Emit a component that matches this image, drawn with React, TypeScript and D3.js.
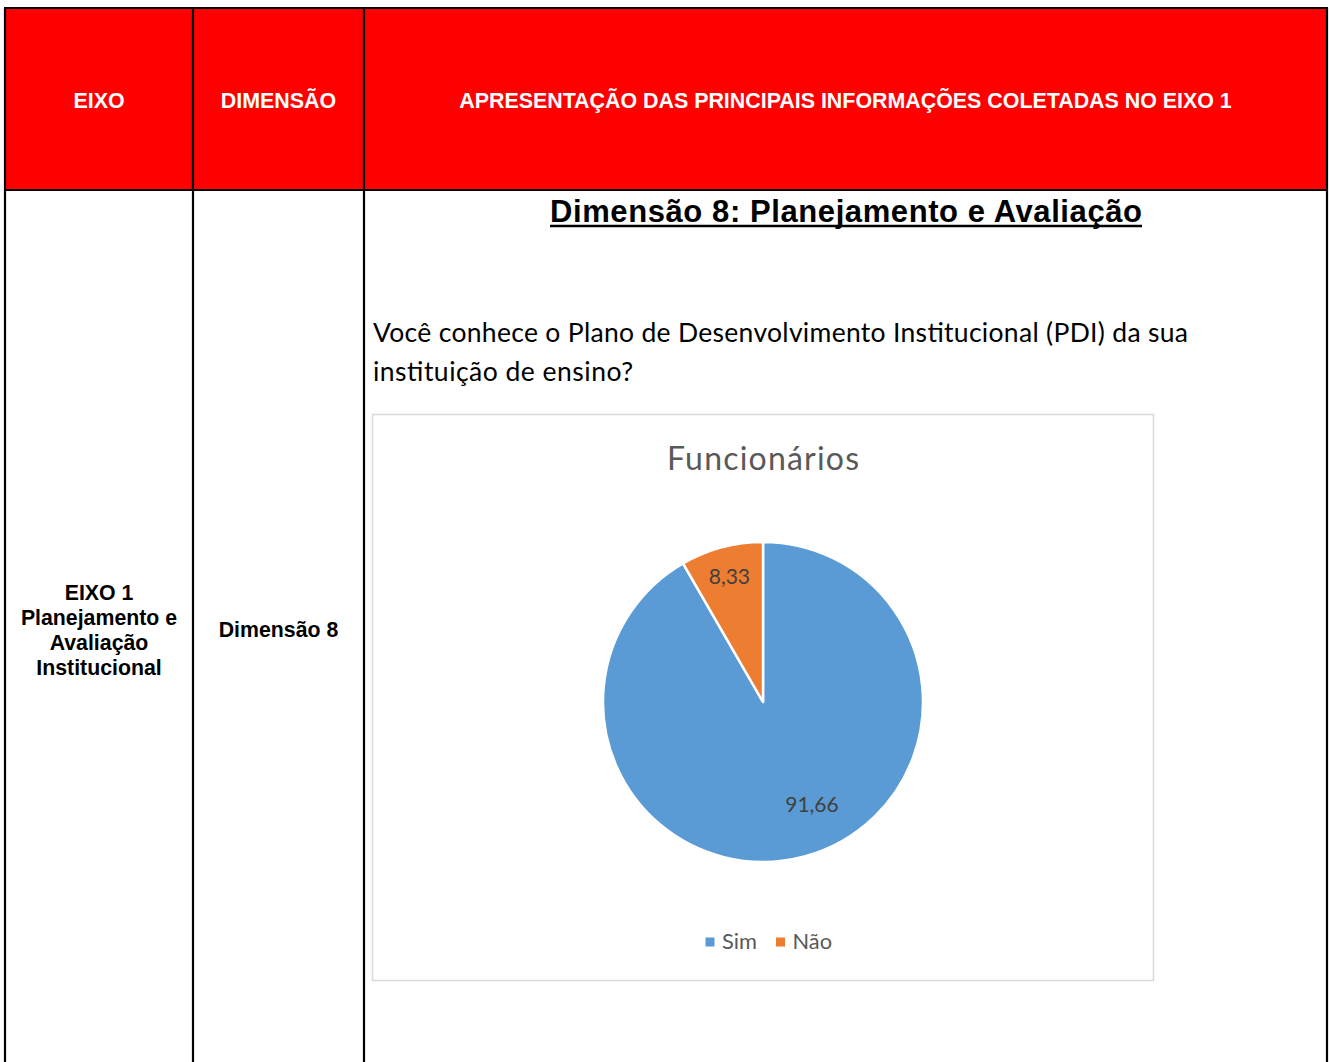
import React from "react";
import * as d3 from "d3";

const headers = ["EIXO", "DIMENSÃO", "APRESENTAÇÃO DAS PRINCIPAIS INFORMAÇÕES COLETADAS NO EIXO 1"];
const eixoLines = ["EIXO 1", "Planejamento e", "Avaliação", "Institucional"];
const dimensao = "Dimensão 8";
const sectionTitle = "Dimensão 8: Planejamento e Avaliação";
const questionLines = ["Você conhece o Plano de Desenvolvimento Institucional (PDI) da sua", "instituição de ensino?"];
const chartTitle = "Funcionários";
const categories = ["Sim", "Não"];
const values = [91.66, 8.33];
const valueLabels = ["91,66", "8,33"];
const colors = ["#5B9BD5", "#ED7D31"];

const W = 1330;
const H = 1062;
const colX = [5, 193, 364, 1327];
const tableTop = 8;
const headerBottom = 190;

const cx = 763;
const cy = 702;
const R = 160;

export default function App() {
  const pie = d3.pie<number>().sort(null).value((d) => d);
  const arcs = pie(values);
  const arcGen = d3.arc<d3.PieArcDatum<number>>().innerRadius(0).outerRadius(R);
  const labelArc = d3.arc<d3.PieArcDatum<number>>().innerRadius(0);
  const labelRadii = [112 * 2, 130 * 2];
  const labelShift = [[20, -6], [0, 0]];
  const arial = "'Liberation Sans', Arial, sans-serif";
  const cal = "Lato, 'Open Sans', sans-serif";

  return (
    <svg
      width={W}
      height={H}
      style={{ position: "absolute", left: 0, top: 0, background: "#fff" }}
    >
      <rect x={colX[0]} y={tableTop} width={colX[3] - colX[0]} height={headerBottom - tableTop} fill="#FF0000" />
      {/* table lines */}
      <g stroke="#000" strokeWidth={2.2}>
        <line x1={colX[0] - 1} x2={colX[3] + 1} y1={tableTop} y2={tableTop} />
        <line x1={colX[0] - 1} x2={colX[3] + 1} y1={headerBottom} y2={headerBottom} />
        {colX.map((x, i) => (
          <line key={i} x1={x} x2={x} y1={tableTop} y2={H} />
        ))}
      </g>
      {/* header text */}
      {headers.map((h, i) => (
        <text
          key={h}
          x={(colX[i] + colX[i + 1]) / 2}
          y={107.5}
          textAnchor="middle"
          fill="#fff"
          fontFamily={arial}
          fontWeight="bold"
          fontSize={21.4}
        >
          {h}
        </text>
      ))}
      {/* left column */}
      {eixoLines.map((t, i) => (
        <text
          key={t}
          x={(colX[0] + colX[1]) / 2}
          y={599.5 + i * 25}
          textAnchor="middle"
          fill="#000"
          fontFamily={arial}
          fontWeight="bold"
          fontSize={21.3}
        >
          {t}
        </text>
      ))}
      <text
        x={(colX[1] + colX[2]) / 2}
        y={636.5}
        textAnchor="middle"
        fill="#000"
        fontFamily={arial}
        fontWeight="bold"
        fontSize={21.3}
      >
        {dimensao}
      </text>
      {/* section title */}
      <text
        x={550}
        y={221.5}
        fill="#000"
        fontFamily={arial}
        fontWeight="bold"
        fontSize={31}
        textLength={592}
      >
        {sectionTitle}
      </text>
      <line x1={550} x2={1142} y1={226} y2={226} stroke="#000" strokeWidth={2.4} />
      {/* question */}
      {questionLines.map((t, i) => (
        <text
          key={t}
          x={373}
          y={342 + i * 39}
          fill="#000"
          fontFamily={cal}
          fontSize={26.5}
          textLength={i === 0 ? 815 : 260}
        >
          {t}
        </text>
      ))}
      {/* chart frame */}
      <rect x={372.5} y={414.5} width={781} height={566} fill="#fff" stroke="#D9D9D9" strokeWidth={1.5} />
      <text
        x={cx}
        y={470}
        textAnchor="middle"
        fill="#595959"
        fontFamily={cal}
        fontSize={32}
        textLength={192}
      >
        {chartTitle}
      </text>
      <g transform={`translate(${cx},${cy})`}>
        {arcs.map((a, i) => (
          <path key={i} d={arcGen(a) || ""} fill={colors[i]} stroke="#fff" strokeWidth={2.5} strokeLinejoin="round" />
        ))}
        {arcs.map((a, i) => {
          const [lx, ly] = labelArc.outerRadius(labelRadii[i]).centroid(a);
          return (
            <text
              key={i}
              x={lx + labelShift[i][0]}
              y={ly + labelShift[i][1]}
              dy="0.36em"
              textAnchor="middle"
              fill="#404040"
              fontFamily={cal}
              fontSize={21}
            >
              {valueLabels[i]}
            </text>
          );
        })}
      </g>
      {/* legend */}
      {categories.map((c, i) => {
        const lx = [705.5, 776][i];
        return (
          <g key={c}>
            <rect x={lx} y={937.5} width={9} height={9} fill={colors[i]} />
            <text x={lx + 16.5} y={948.5} fill="#595959" fontFamily={cal} fontSize={21.8}>
              {c}
            </text>
          </g>
        );
      })}
    </svg>
  );
}
